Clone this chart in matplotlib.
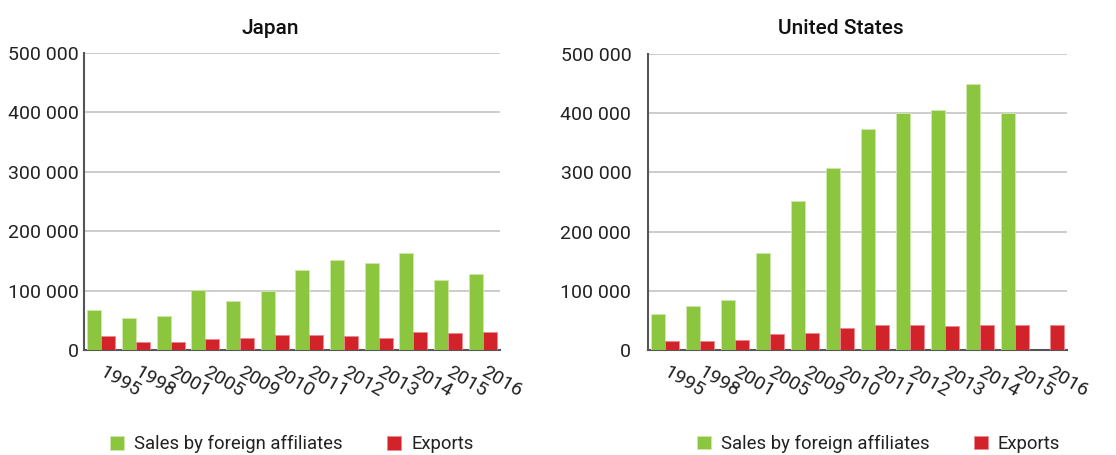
import matplotlib
matplotlib.use("Agg")
import matplotlib.pyplot as plt
import matplotlib.ticker as mticker
import matplotlib.transforms as mtransforms
import numpy as np

years = ["1995", "1998", "2001", "2005", "2009", "2010",
         "2011", "2012", "2013", "2014", "2015", "2016"]

japan_sales = [68000, 54000, 57000, 101000, 83000, 100000,
               135000, 151000, 146000, 163000, 118000, 128000]
japan_exports = [23000, 14000, 14000, 19000, 21000, 26000,
                 26000, 23000, 21000, 31000, 29000, 31000]

us_sales = [60000, 74000, 85000, 164000, 252000, 308000,
            374000, 401000, 406000, 450000, 401000, np.nan]
us_exports = [15000, 15000, 17000, 27000, 29000, 38000,
              43000, 43000, 41000, 43000, 43000, 43000]

GREEN = "#8cc63f"
RED = "#d2232a"
GRID = "#c8c8c8"
SPINE = "#555555"

plt.rcParams["font.family"] = ["Roboto", "DejaVu Sans"]

W, H = 1116, 455
fig = plt.figure(figsize=(W / 100, H / 100), dpi=100)


def px_axes(x0, y0, x1, y1):
    return fig.add_axes([x0 / W, 1 - y1 / H, (x1 - x0) / W, (y1 - y0) / H])


def space_fmt(v, _pos):
    return f"{int(v):,}".replace(",", " ")


def draw_panel(ax, sales, exports, title, title_x, ypad, leg_x):
    x = np.arange(len(years))
    w = 0.4
    ax.bar(x - w / 2, sales, width=w, color=GREEN, edgecolor="#cfe8ad",
           linewidth=0.6, label="Sales by foreign affiliates", zorder=3)
    ax.bar(x + w / 2, exports, width=w, color=RED, edgecolor="#e88a8e",
           linewidth=0.6, label="Exports", zorder=3)
    ax.set_xlim(-0.5, len(years) - 0.5)
    ax.set_ylim(0, 500000)
    ax.yaxis.set_major_locator(mticker.MultipleLocator(100000))
    ax.yaxis.set_major_formatter(mticker.FuncFormatter(space_fmt))
    ax.grid(axis="y", color=GRID, linewidth=1.3, zorder=0)
    ax.set_axisbelow(True)
    for s in ("top", "right"):
        ax.spines[s].set_visible(False)
    for s in ("left", "bottom"):
        ax.spines[s].set_color(SPINE)
        ax.spines[s].set_linewidth(1.5)
    ax.tick_params(axis="y", length=0, pad=ypad, labelsize=14,
                   labelcolor="#222222")
    ax.tick_params(axis="x", length=0, pad=9)
    ax.set_xticks(x)
    ax.set_xticklabels(years, rotation=-30, ha="left", va="top",
                       rotation_mode="anchor", fontsize=14,
                       color="#222222")
    shift = mtransforms.ScaledTranslation(4 / 100, 0, fig.dpi_scale_trans)
    for lab in ax.get_xticklabels():
        lab.set_transform(lab.get_transform() + shift)
    fig.text(title_x / W, 1 - 28 / H, title, ha="center", va="center",
             fontsize=15, fontweight="medium", color="#111111")
    leg = ax.legend(loc="center", bbox_to_anchor=(leg_x, -0.317), ncol=2,
                    frameon=False, fontsize=13.3, handlelength=0.75,
                    handleheight=0.75, handletextpad=0.55,
                    columnspacing=2.4)
    for t in leg.get_texts():
        t.set_color("#222222")


ax1 = px_axes(84, 53, 500, 350)
draw_panel(ax1, japan_sales, japan_exports, "Japan", 270, 4, 0.5)

ax2 = px_axes(648, 54, 1067, 350)
draw_panel(ax2, us_sales, us_exports, "United States", 841, 12, 0.55)

fig.savefig("out.png", dpi=100, facecolor="white")
